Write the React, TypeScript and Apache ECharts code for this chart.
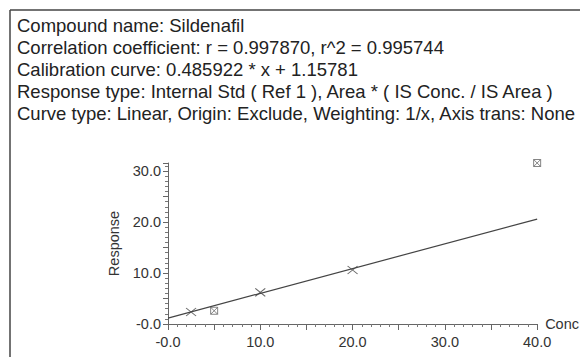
import React, { useEffect, useRef } from "react";
import * as echarts from "echarts";

const headerLines = [
  "Compound name: Sildenafil",
  "Correlation coefficient: r = 0.997870, r^2 = 0.995744",
  "Calibration curve: 0.485922 * x + 1.15781",
  "Response type: Internal Std ( Ref 1 ), Area * ( IS Conc. / IS Area )",
  "Curve type: Linear, Origin: Exclude, Weighting: 1/x, Axis trans: None",
];

// included calibration points [conc, response]
const includedPoints: [number, number][] = [
  [2.5, 2.35],
  [10, 6.2],
  [20, 10.6],
];
// excluded calibration points
const excludedPoints: [number, number][] = [
  [5, 2.6],
  [40, 31.6],
];
// fitted calibration line endpoints
const curvePoints: [number, number][] = [
  [0, 1.158],
  [40, 20.595],
];

const xTicks = [0, 10, 20, 30, 40];
const yTicks = [0, 10, 20, 30];

const FONT = "'Liberation Sans', Arial, sans-serif";

export default function App() {
  const ref = useRef<HTMLDivElement>(null);
  useEffect(() => {
    if (!ref.current) return;
    const chart = echarts.init(ref.current, undefined, { renderer: "svg" });
    const fmt = (v: number) => (v === 0 ? "-0.0" : v.toFixed(1));
    chart.setOption({
      animation: false,
      textStyle: { fontFamily: FONT },
      grid: { left: 168, right: 38, top: 163, bottom: 33 },
      xAxis: {
        type: "value",
        min: 0,
        max: 40,
        interval: 5,
        name: "Conc",
        nameLocation: "end",
        nameGap: 8,
        nameTextStyle: { fontSize: 14.5, color: "#333", fontFamily: FONT, verticalAlign: "middle" },
        axisLine: { show: true, lineStyle: { color: "#666", width: 1 } },
        axisTick: { show: true, inside: false, length: 6, lineStyle: { color: "#666" } },
        minorTick: { show: true, splitNumber: 5, length: 3, lineStyle: { color: "#777" } },
        splitLine: { show: false },
        axisLabel: {
          fontSize: 14.5,
          color: "#333",
          margin: 10,
          fontFamily: FONT,
          formatter: (v: number) => (xTicks.includes(v) ? fmt(v) : ""),
        },
      },
      yAxis: {
        type: "value",
        min: 0,
        max: 31.6,
        interval: 5,
        name: "Response",
        nameLocation: "middle",
        nameRotate: 90,
        nameGap: 45,
        nameTextStyle: { fontSize: 14.5, color: "#333", fontFamily: FONT },
        axisLine: { show: true, lineStyle: { color: "#666", width: 1 } },
        axisTick: { show: true, inside: false, length: 5, lineStyle: { color: "#666" } },
        minorTick: { show: true, splitNumber: 5, length: 3, lineStyle: { color: "#777" } },
        splitLine: { show: false },
        axisLabel: {
          fontSize: 14.5,
          color: "#333",
          margin: 7,
          fontFamily: FONT,
          showMaxLabel: false,
          formatter: (v: number) => (yTicks.includes(v) ? fmt(v) : ""),
        },
      },
      series: [
        {
          type: "line",
          data: curvePoints,
          symbol: "none",
          lineStyle: { color: "#444", width: 1.2 },
          silent: true,
        },
        {
          type: "scatter",
          data: includedPoints,
          symbol: "path://M0,0L10,10M10,0L0,10",
          symbolSize: [10, 8],
          itemStyle: { color: "none", borderColor: "#444", borderWidth: 1 },
        },
        {
          type: "scatter",
          data: excludedPoints,
          clip: false,
          symbol: "path://M0,0H10V10H0ZM0,0L10,10M10,0L0,10",
          symbolSize: 7,
          itemStyle: { color: "none", borderColor: "#666", borderWidth: 1 },
        },
      ],
      graphic: [
        {
          type: "line",
          shape: { x1: 10, y1: 10, x2: 10, y2: 357 },
          style: { stroke: "#444", lineWidth: 1.5 },
        },
        {
          type: "line",
          shape: { x1: 10, y1: 10, x2: 580, y2: 10 },
          style: { stroke: "#444", lineWidth: 1.5 },
        },
        ...headerLines.map((t, i) => ({
          type: "text",
          x: 17,
          y: 25 + i * 22,
          style: {
            text: t,
            fontSize: 18.5,
            fontFamily: FONT,
            fill: "#222",
            verticalAlign: "middle",
          },
        })),
      ],
    });
    return () => chart.dispose();
  }, []);
  return (
    <div
      ref={ref}
      style={{ position: "absolute", left: 0, top: 0, width: 580, height: 357 }}
    />
  );
}
